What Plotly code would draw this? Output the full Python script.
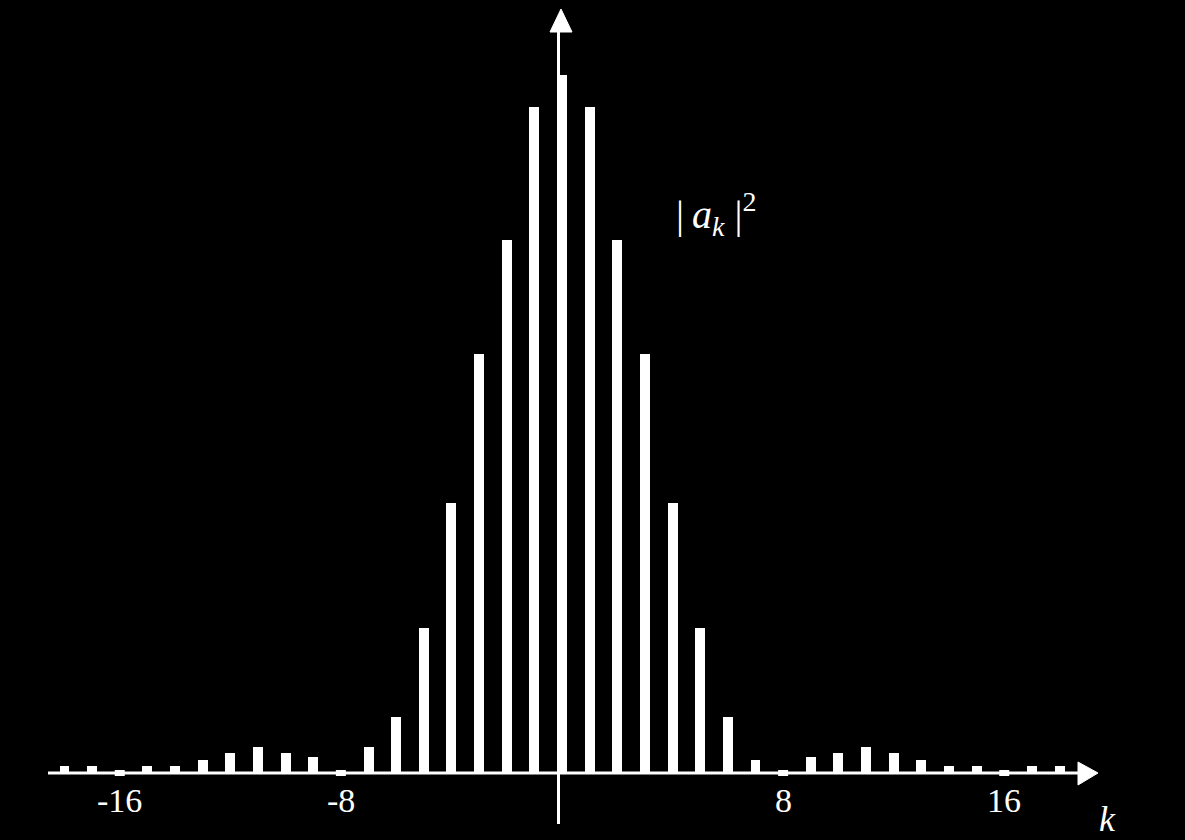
import plotly.graph_objects as go

# ---- data ----
k_values = list(range(-18, 19))
power = [1.0, 1.0, 0.0, 1.0, 1.0, 1.9, 2.9, 3.7, 2.9, 2.3, 0.0, 3.7, 8.0, 20.8, 38.7, 60.0, 76.4, 95.4,
         100.0,
         95.4, 76.4, 60.0, 38.7, 20.8, 8.0, 1.9, 0.0, 2.3, 2.9, 3.7, 2.9, 1.9, 1.0, 1.0, 0.0, 1.0, 1.0]
tick_vals = [-16, -8, 8, 16]
tick_text = ["-16", "-8", "8", "16"]

W, H = 1185, 840
X0_PX, PX_PER_K = 562, 27.64
Y0_PX, PX_PER_UNIT = 773, 6.98

def px(x):
    return x / W

def py(y):
    return 1 - y / H

FONT = "Liberation Serif, Times New Roman, serif"

fig = go.Figure()
fig.add_trace(go.Bar(x=k_values, y=power, width=0.36,
                     marker=dict(color="white", line=dict(width=0)),
                     hoverinfo="x+y"))

shapes = []
# x axis line
shapes.append(dict(type="line", xref="paper", yref="y", x0=px(48), x1=px(1082), y0=0, y1=0,
                   line=dict(color="white", width=3), layer="above"))
# x arrow head
shapes.append(dict(type="path", xref="paper", yref="paper",
                   path=f"M {px(1078)},{py(762)} L {px(1098)},{py(773)} L {px(1078)},{py(785)} Z",
                   fillcolor="white", line=dict(color="white", width=1), layer="above"))
# y axis line
shapes.append(dict(type="line", xref="paper", yref="paper", x0=px(558.5), x1=px(558.5),
                   y0=py(824), y1=py(30), line=dict(color="white", width=3), layer="above"))
# y arrow head
shapes.append(dict(type="path", xref="paper", yref="paper",
                   path=f"M {px(550)},{py(32)} L {px(561)},{py(9)} L {px(572)},{py(32)} Z",
                   fillcolor="white", line=dict(color="white", width=1), layer="above"))
# tick marks
for t in tick_vals:
    shapes.append(dict(type="rect", xref="x", yref="y", xsizemode="pixel", ysizemode="pixel",
                       xanchor=t, yanchor=0, x0=-5, x1=5, y0=-3, y1=3,
                       fillcolor="white", line=dict(width=0), layer="above"))

annotations = []
for t, s in zip(tick_vals, tick_text):
    annotations.append(dict(x=t, xref="x", y=py(780), yref="paper", text=s, showarrow=False,
                            xanchor="center", yanchor="top",
                            font=dict(family=FONT, size=34, color="white")))
annotations.append(dict(x=px(1107), xref="paper", y=py(819), yref="paper", text="<i>k</i>",
                        showarrow=False, xanchor="center", yanchor="middle",
                        font=dict(family=FONT, size=36, color="white")))
annotations.append(dict(x=px(674), xref="paper", y=py(214), yref="paper",
                        text="|\u2009<i>a</i><sub><i>k</i></sub> |<sup>2</sup>",
                        showarrow=False, xanchor="left", yanchor="middle",
                        font=dict(family=FONT, size=40, color="white")))

fig.update_layout(
    width=W, height=H,
    margin=dict(l=0, r=0, t=0, b=0),
    paper_bgcolor="black", plot_bgcolor="black",
    showlegend=False,
    xaxis=dict(visible=False, range=[-X0_PX / PX_PER_K, (W - X0_PX) / PX_PER_K]),
    yaxis=dict(visible=False, range=[-(H - Y0_PX) / PX_PER_UNIT, Y0_PX / PX_PER_UNIT]),
    shapes=shapes, annotations=annotations,
    bargap=0,
)

fig.write_html("out.html", config={"displayModeBar": False},
               post_script="document.body.style.margin='0';document.body.style.background='black';")
